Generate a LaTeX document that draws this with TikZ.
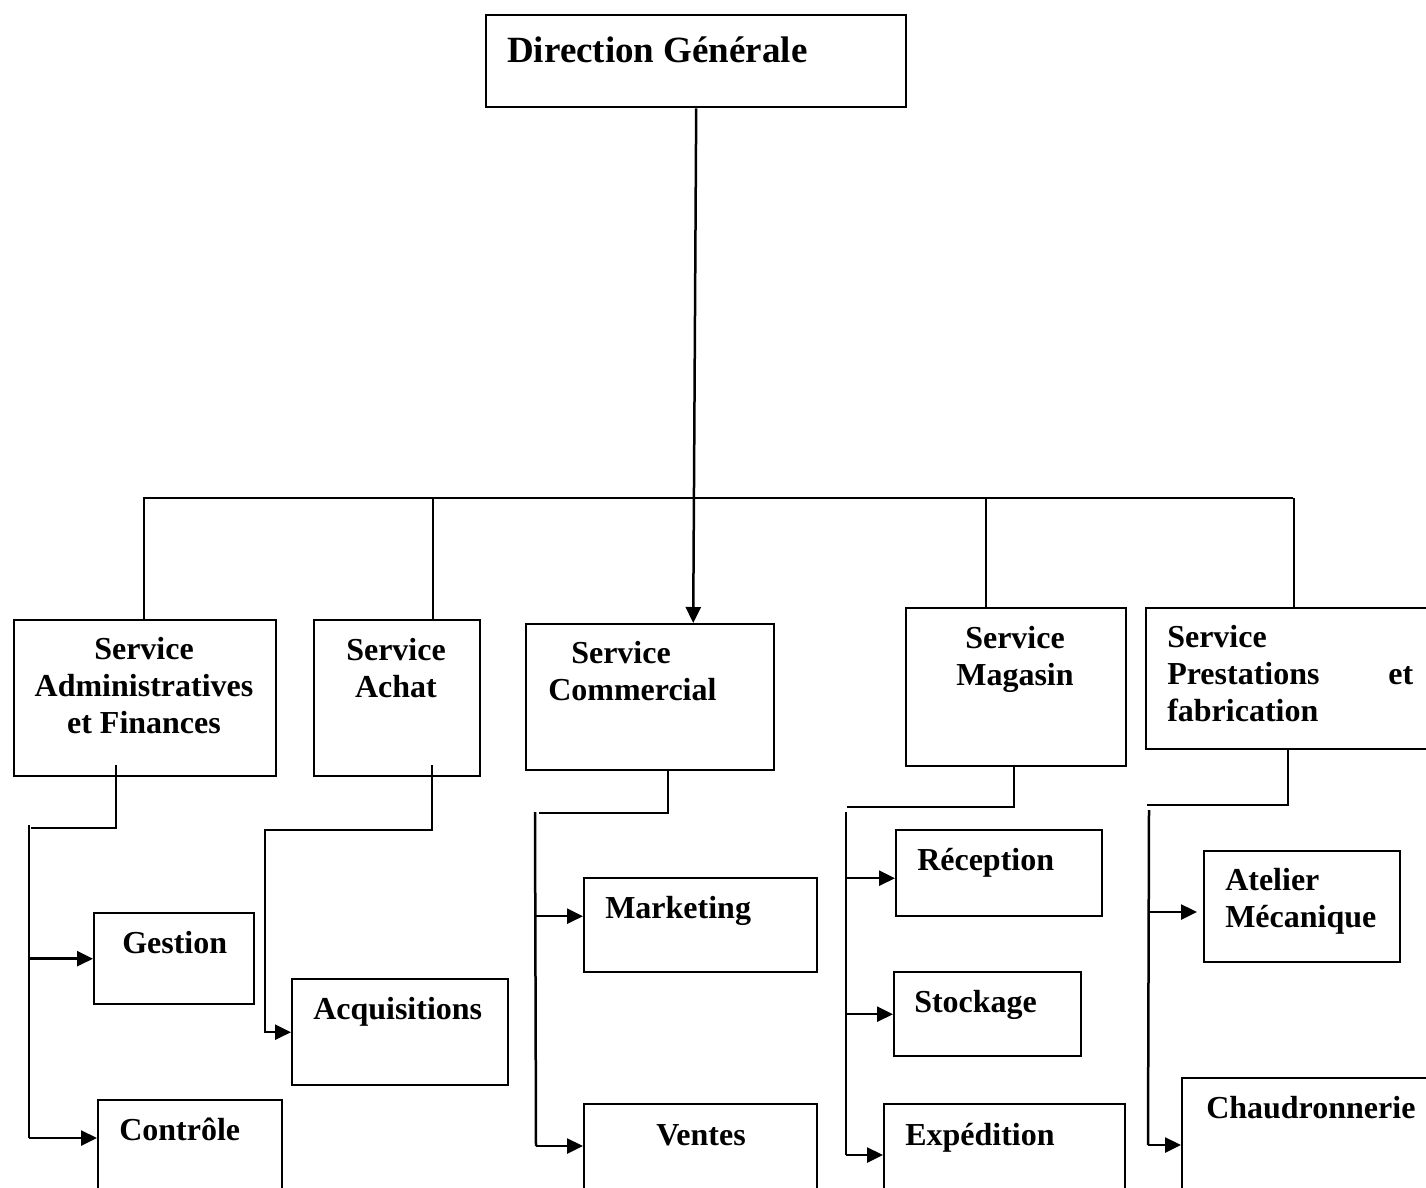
\documentclass[tikz,border=0pt]{standalone}
\usepackage{fontspec}
\setmainfont{Liberation Serif}
\usetikzlibrary{arrows.meta}

\begin{document}
\begin{tikzpicture}[x=1pt,y=-1pt,line width=2.5pt,
    >={Triangle[length=16pt,width=15pt]},
    unit/.style={draw,line width=2.4pt,anchor=north west,inner sep=0pt},
    lbl/.style={inner sep=0pt,font=\fontsize{32}{37}\selectfont\bfseries}]
                \useasboundingbox (0,0) rectangle (1426,1187);
                \clip (0,0) rectangle (1426,1187);
                % boxes
                \foreach \x/\y/\w/\h/\n in {485/14/420/92/dg, 13/619/262/156/af, 313/619/166/156/achat, 525/623/248/146/com, 905/607/220/158/mag, 1145/607/300/141/pf, 93/912/160/91/ges, 97/1099/184/110/ctl, 291/978/216/106/acq, 583/877/233/94/mkt, 583/1103/233/100/ven, 895/829/206/86/rec, 893/971/187/84/sto, 883/1103/241/100/exp, 1203/850/196/111/ate, 1181/1077/260/130/chd}
                \node[unit,minimum width=\w pt,minimum height=\h pt] (\n) at (\x,\y) {};
                % labels (base = last line)
                \node[lbl,anchor=base west,font=\fontsize{37}{44}\selectfont\bfseries] (dg-t) at (506,62) {Direction Générale};
                \foreach \x/\y/\n/\t in {144/733/af/{Service\\Administratives\\et Finances}, 396/697/achat/{Service\\Achat}, 1015/685/mag/{Service\\Magasin}}
                \node[lbl,align=center,anchor=base] (\n-t) at (\x,\y) {\t};
                \foreach \x/\y/\n/\t in {547/700/com/{\hspace*{23pt}Service\\Commercial}, 121/953/ges/Gestion, 118/1140/ctl/Contrôle, 312/1019/acq/Acquisitions, 604/918/mkt/Marketing, 655/1145/ven/Ventes, 916/870/rec/Réception, 913/1012/sto/Stockage, 904/1145/exp/Expédition, 1224/927/ate/{Atelier\\Mécanique}, 1205/1118/chd/Chaudronnerie}
                \node[lbl,align=left,anchor=base west] (\n-t) at (\x,\y) {\t};
                \node[lbl,text width=246pt,align=left,anchor=base west] (pf-t) at (1166,647) {Service\\Prestations\hfill et\\fabrication};
                % top level
                \coordinate (bl) at (143,498);
                \coordinate (br) at (1293,498);
                \draw (bl) -- (br);
                \draw[->] (dg.south) -- ([xshift=43pt]com.north);
                \foreach \n/\dx in {af/-1, achat/36, mag/-30, pf/-2} {
                \coordinate (\n-in) at ([xshift=\dx pt]\n.north);
                \draw (\n-in) -- (\n-in |- bl);
                }
                % af
                \coordinate (af-k) at (31,828);
                \coordinate (af-top) at (29,825);
                \coordinate (af-end) at (29,1138);
                \draw ([xshift=-29pt,yshift=12pt]af.south) |- (af-k);
                \draw (af-top) -- (af-end);
                \draw[->] (af-top |- ges.west) -- (ges.west);
                \draw[->] (af-end) -- (af-end -| ctl.west);
                % achat
                \coordinate (ach-k) at (265,830);
                \draw[->] ([xshift=35pt,yshift=12pt]achat.south) |- (ach-k) |- (acq.west);
                % com
                \coordinate (com-k) at (539,813);
                \coordinate (com-top) at (535,812);
                \coordinate (com-end) at (536,1146);
                \coordinate (mkt-in) at ([yshift=9pt]mkt.west);
                \coordinate (ven-in) at ([yshift=-43pt]ven.north west);
                \draw ([xshift=18pt]com.south) |- (com-k);
                \draw (com-top) -- (com-end);
                \draw[->] (com-top |- mkt-in) -- (mkt-in);
                \draw[->] (com-end) -- (ven-in);
                % mag
                \coordinate (mag-k) at (847,807);
                \coordinate (mag-top) at (846,812);
                \coordinate (mag-end) at (846,1155);
                \coordinate (rec-in) at ([yshift=-5pt]rec.west);
                \coordinate (exp-in) at ([yshift=-52pt]exp.north west);
                \draw ([xshift=-2pt]mag.south) |- (mag-k);
                \draw (mag-top) -- (mag-end);
                \draw[->] (mag-top |- rec-in) -- (rec-in);
                \draw[->] (mag-top |- sto.west) -- (sto.west);
                \draw[->] (mag-end) -- (exp-in);
                % pf
                \coordinate (pf-k) at (1147,805);
                \coordinate (pf-top) at (1149,810);
                \coordinate (pf-end) at (1148,1145);
                \coordinate (ate-in) at ([yshift=-62pt]ate.north west);
                \coordinate (chd-in) at ([yshift=-68pt]chd.north west);
                \draw ([xshift=-8pt]pf.south) |- (pf-k);
                \draw (pf-top) -- (pf-end);
                \draw[->,shorten >=6pt] (pf-top |- ate-in) -- (ate-in);
                \draw[->] (pf-end) -- (chd-in);
            \end{tikzpicture}
\end{document}
